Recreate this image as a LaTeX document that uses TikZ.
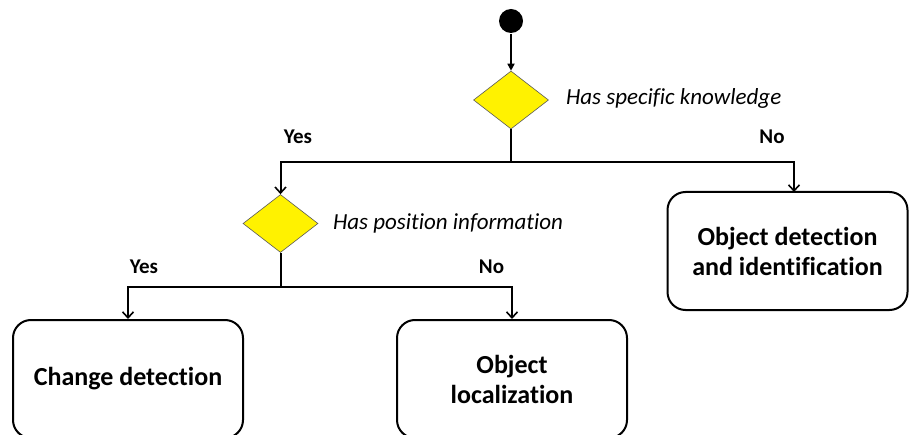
\documentclass[tikz,border=0pt]{standalone}
\usepackage{fontspec}
\setmainfont{Carlito}[Ligatures=NoCommon]
\usetikzlibrary{shapes.geometric,arrows.meta}

\begin{document}
\begin{tikzpicture}[x=1pt, y=-1pt, line width=2pt,
  >={Straight Barb[length=6pt, width=11pt, line width=1.6pt]},
  decision/.style={diamond, draw=gray!70!black, line width=0.6pt, fill=yellow,
    minimum width=75pt, minimum height=58pt, inner sep=0pt},
  task/.style={rectangle, rounded corners=18pt, draw, line width=2pt,
    minimum width=230pt, minimum height=118pt, align=center,
    font=\fontsize{26}{30}\selectfont\bfseries},
  cond/.style={font=\fontsize{23}{27}\selectfont\itshape, anchor=west, inner sep=0pt},
  answer/.style={font=\fontsize{21}{24}\selectfont\bfseries, inner sep=0pt}]
  \clip (0,0) rectangle (909,435);

  % Knoten
  \node[circle, fill, inner sep=0pt, minimum size=24pt] (start) at (511, 21) {};
  \node[decision] (know) at (511, 100) {};
  \node[decision] (pos) at (280.5, 223.5) {};
  \node[task] (change) at (128, 379) {Change detection};
  \node[task] (loc) at (512, 379) {Object\\localization};
  \node[task, minimum width=240pt] (ident) at (787.5, 251) {Object detection\\and identification};

  % Beschriftungen
  \node[cond] (knowtext) at (565, 98) {Has specific knowledge};
  \node[cond] (postext) at (332, 223) {Has position information};
  \node[answer] (yes1) at (298, 137) {Yes};
  \node[answer] (no1) at (772, 137) {No};
  \node[answer] (yes2) at (144, 267) {Yes};
  \node[answer] (no2) at (491.5, 267) {No};

  % Verzweigungen
  \coordinate (split1) at (511, 162);
  \coordinate (split2) at (280.5, 287);
  \coordinate (identin) at (794, 192);

  % Pfeile
  \draw[-{Triangle[length=7pt, width=7pt]}, line width=1.6pt] (start) -- (know);
  \draw (know.south) -- (split1);
  \draw[->] (split1) -| (pos.north);
  \draw[->] (split1) -| (identin);
  \draw (pos.south) -- (split2);
  \draw[->] (split2) -| (change.north);
  \draw[->] (split2) -| (loc.north);
\end{tikzpicture}
\end{document}
